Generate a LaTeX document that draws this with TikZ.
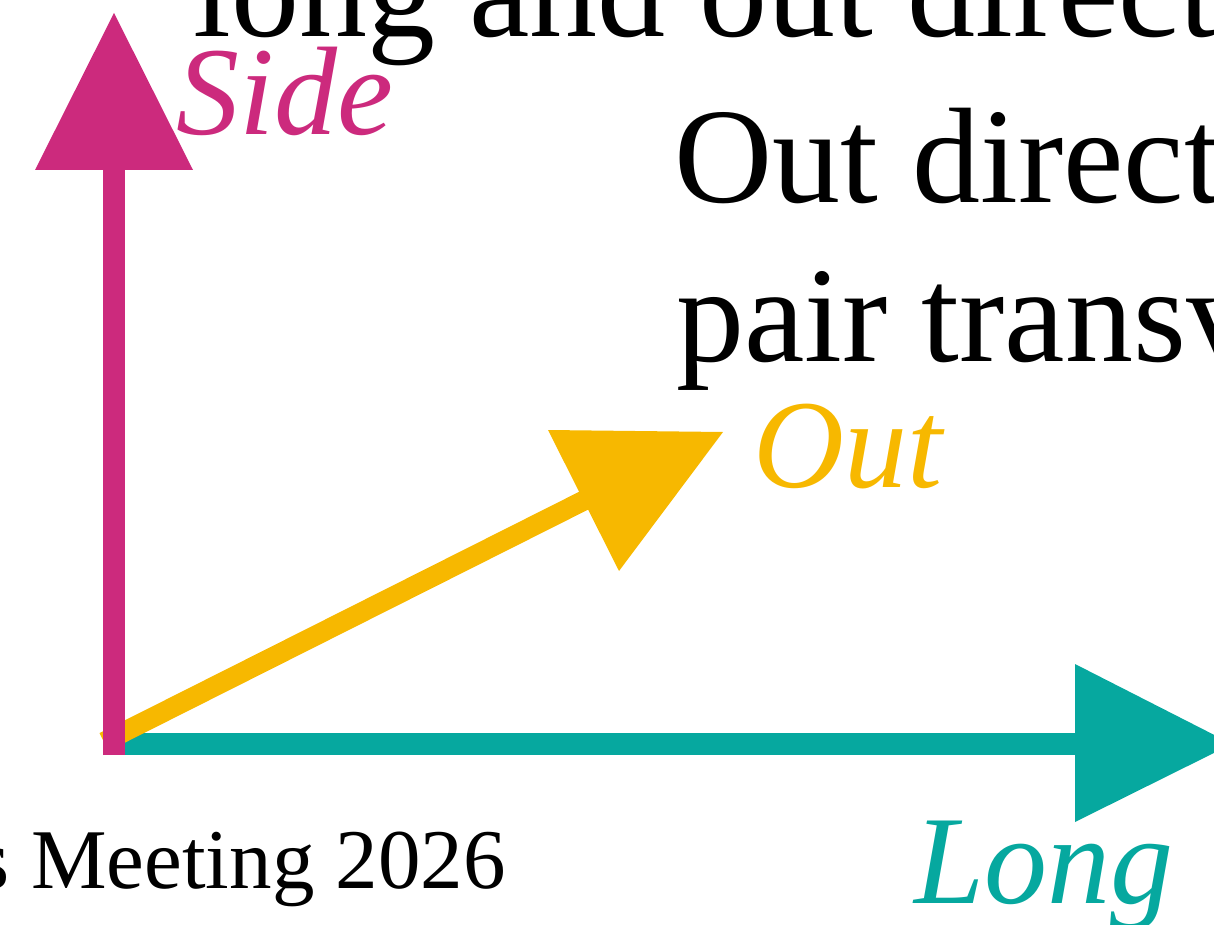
\documentclass[tikz,border=0pt]{standalone}
\usepackage{fontspec}
\setmainfont{Liberation Serif}
\definecolor{cside}{RGB}{204,42,125}
\definecolor{clong}{RGB}{6,168,159}
\definecolor{cout}{RGB}{247,184,0}
\begin{document}
\begin{tikzpicture}[x=1pt,y=-1pt,
  lbl/.style={inner sep=0pt, anchor=base west},
  big/.style={font=\fontsize{136pt}{150pt}\selectfont},
  axlbl/.style={font=\fontsize{126pt}{140pt}\selectfont\itshape},
  shaft/.style={line width=22pt, line cap=butt}]
\useasboundingbox (0,0) rectangle (1214,925);
% key points
\coordinate (O) at (114,744);
\coordinate (Lstart) at (103,744);
\coordinate (Lbase) at (1076,744);
\coordinate (Ltip) at (1232,744);
\coordinate (La) at (1075,664);
\coordinate (Lb) at (1075,822);
\coordinate (Sstart) at (114,755);
\coordinate (Sbase) at (114,169);
\coordinate (Stip) at (114,13);
\coordinate (Sa) at (35,170);
\coordinate (Sb) at (193,170);
\coordinate (Ostart) at (104,742);
\coordinate (Obase) at (585,500);
\coordinate (Otip) at (723,432);
\coordinate (Oa) at (548,430);
\coordinate (Ob) at (619,571);
% Long arrow
\draw[shaft, clong] (Lstart) -- (Lbase);
\fill[clong] (La) -- (Ltip) -- (Lb) -- cycle;
% Out arrow
\draw[shaft, line width=20pt, cout] (Ostart) -- (Obase);
\fill[cout] (Oa) -- (Otip) -- (Ob) -- cycle;
% Side arrow
\draw[shaft, cside] (Sstart) -- (Sbase);
\fill[cside] (Sa) -- (Stip) -- (Sb) -- cycle;
% labels
\node[lbl, axlbl, text=cside] (side) at (176,135) {Side};
\node[lbl, axlbl, text=cout] (out) at (753,487) {Out};
\node[lbl, axlbl, text=clong] (long) at (914,903) {Long};
% text
\node[lbl, big] (t1) at (193,37) {long and out direct};
\node[lbl, big] (t2) at (674,203) {Out direct};
\node[lbl, big] (t3) at (676,361) {pair transv};
\node[inner sep=0pt, anchor=base east, font=\fontsize{85pt}{96pt}\selectfont] (foot) at (506,888) {s Meeting 2026};
\end{tikzpicture}
\end{document}
